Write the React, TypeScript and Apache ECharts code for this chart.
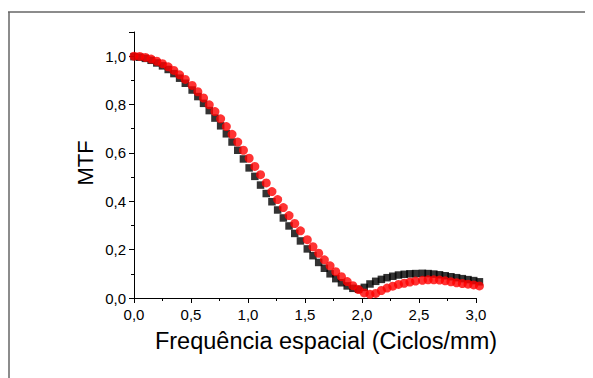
import React, { useEffect, useRef } from "react";
import * as echarts from "echarts";

const freq = [0.00,0.05,0.10,0.15,0.20,0.25,0.30,0.35,0.40,0.45,0.51,0.56,0.61,0.66,0.71,0.76,0.81,0.86,0.91,0.96,1.01,1.06,1.11,1.16,1.21,1.26,1.31,1.36,1.41,1.46,1.52,1.57,1.62,1.67,1.72,1.77,1.82,1.87,1.92,1.97,2.02,2.07,2.12,2.17,2.22,2.27,2.32,2.37,2.42,2.47,2.53,2.58,2.63,2.68,2.73,2.78,2.83,2.88,2.93,2.98,3.03];

const mtfBlack = [0.998,0.996,0.991,0.983,0.972,0.960,0.945,0.928,0.909,0.888,0.860,0.833,0.805,0.775,0.744,0.712,0.679,0.645,0.611,0.575,0.538,0.503,0.467,0.432,0.398,0.364,0.331,0.298,0.267,0.236,0.203,0.175,0.147,0.123,0.100,0.080,0.063,0.050,0.040,0.036,0.044,0.058,0.069,0.077,0.084,0.090,0.095,0.098,0.100,0.101,0.102,0.101,0.099,0.096,0.092,0.088,0.084,0.080,0.076,0.072,0.067];

const mtfRed = [1.000,0.999,0.995,0.988,0.979,0.969,0.956,0.941,0.923,0.904,0.879,0.853,0.827,0.799,0.771,0.741,0.709,0.677,0.645,0.611,0.578,0.544,0.510,0.476,0.440,0.407,0.374,0.341,0.308,0.278,0.241,0.212,0.185,0.158,0.133,0.109,0.088,0.068,0.051,0.035,0.021,0.015,0.019,0.031,0.041,0.049,0.056,0.061,0.066,0.070,0.073,0.075,0.075,0.074,0.071,0.067,0.063,0.060,0.057,0.054,0.050];

const xTitle = "Frequência espacial (Ciclos/mm)";
const yTitle = "MTF";

const fmt = (v: number) => v.toFixed(1).replace(".", ",");

export default function App() {
  const ref = useRef<HTMLDivElement>(null);
  useEffect(() => {
    if (!ref.current) return;
    const chart = echarts.init(ref.current, undefined, { renderer: "svg" });
    const font = "Liberation Sans, Arial, sans-serif";
    chart.setOption({
      animation: false,
      backgroundColor: "#ffffff",
      textStyle: { fontFamily: font },
      grid: { left: 126, top: 24, right: 117, bottom: 80, containLabel: false },
      graphic: [
        { type: "line", shape: { x1: 0, y1: 4, x2: 600, y2: 4 }, style: { stroke: "#666", lineWidth: 1.5 } },
        { type: "line", shape: { x1: 1, y1: 4, x2: 1, y2: 400 }, style: { stroke: "#666", lineWidth: 1.5 } },
        {
          type: "text",
          x: 318,
          y: 321,
          style: { text: xTitle, fontSize: 23.5, fontFamily: font, fill: "#000", align: "center", verticalAlign: "top" },
        },
        {
          type: "text",
          x: 77.5,
          y: 155,
          rotation: Math.PI / 2,
          style: { text: yTitle, fontSize: 22, fontFamily: font, fill: "#000", align: "center", verticalAlign: "middle" },
        },
      ],
      xAxis: {
        type: "value",
        min: 0,
        max: 3,
        interval: 0.5,
        axisLine: { show: true, onZero: false, lineStyle: { color: "#000", width: 1 } },
        axisTick: { show: true, inside: false, length: 5, lineStyle: { color: "#000" } },
        minorTick: { show: true, splitNumber: 2, length: 3, lineStyle: { color: "#000" } },
        axisLabel: { fontSize: 15, color: "#000", margin: 9, formatter: fmt, fontFamily: font },
        splitLine: { show: false },
      },
      yAxis: {
        type: "value",
        min: 0,
        max: 1.1,
        interval: 0.2,
        axisLine: { show: true, onZero: false, lineStyle: { color: "#000", width: 1 } },
        axisTick: { show: true, inside: false, length: 5, lineStyle: { color: "#000" } },
        minorTick: { show: true, splitNumber: 2, length: 3, lineStyle: { color: "#000" } },
        axisLabel: { fontSize: 15, color: "#000", margin: 8, formatter: fmt, fontFamily: font, showMaxLabel: false },
        splitLine: { show: false },
      },
      series: [
        {
          type: "scatter",
          symbol: "rect",
          symbolSize: 7.5,
          clip: false,
          itemStyle: { color: "#000000" },
          data: freq.map((f, i) => [f, mtfBlack[i]]),
        },
        {
          type: "scatter",
          symbol: "circle",
          symbolSize: 9,
          clip: false,
          itemStyle: { color: "#ff0000" },
          data: freq.map((f, i) => [f, mtfRed[i]]),
        },
      ],
    });
    return () => chart.dispose();
  }, []);
  return <div ref={ref} style={{ width: 585, height: 370 }} />;
}
